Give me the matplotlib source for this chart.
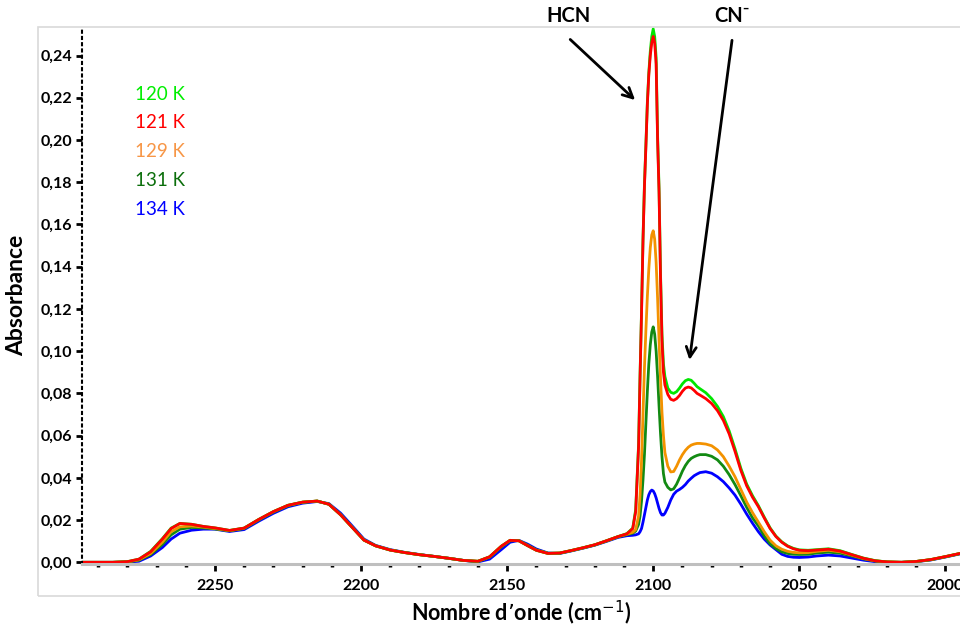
import matplotlib.pyplot as plt
from matplotlib.patches import Rectangle
from matplotlib.ticker import MultipleLocator, FuncFormatter

# wavenumber grid (cm-1), shared by every spectrum
wn = [2295, 2285, 2280, 2276, 2272, 2268, 2265, 2262, 2258, 2254,
      2250, 2245, 2240, 2235, 2230, 2225, 2220, 2215, 2211, 2207,
      2203, 2199, 2195, 2190, 2185, 2180, 2175, 2170, 2165, 2160,
      2156, 2152, 2149, 2146, 2143, 2140, 2136, 2132, 2128, 2124,
      2120, 2116, 2112, 2109, 2107, 2106,
      2105, 2104.5, 2104, 2103.5, 2103, 2102.5, 2102, 2101.5, 2101, 2100.5,
      2100, 2099.5, 2099, 2098.5, 2098, 2097.5, 2097, 2096.5, 2096,
      2095, 2094, 2093, 2092, 2091, 2090, 2089, 2088, 2087, 2086, 2085, 2084,
      2082, 2080, 2078, 2076, 2074, 2072, 2070, 2068, 2066, 2064, 2062, 2060,
      2058, 2056, 2054, 2052, 2050,
      2047, 2044, 2040, 2036, 2032, 2028, 2024, 2020, 2015, 2010, 2005, 2000, 1995]

a120 = [0, 0, 0.0003, 0.0015, 0.0052, 0.0112, 0.0162, 0.0184, 0.018, 0.017,
        0.0163, 0.0151, 0.0162, 0.0203, 0.0240, 0.027, 0.0285, 0.029, 0.0275, 0.0225,
        0.0165, 0.0105, 0.0078, 0.0058, 0.0046, 0.0036, 0.0028, 0.0019, 0.0009, 0.0005,
        0.0026, 0.0076, 0.0104, 0.0102, 0.0079, 0.0057, 0.0042, 0.0044, 0.0056, 0.0069,
        0.0083, 0.0102, 0.0122, 0.0136, 0.0162, 0.025,
        0.056, 0.089, 0.119, 0.153, 0.179, 0.198, 0.218, 0.232, 0.242, 0.249,
        0.2526, 0.249, 0.239, 0.202, 0.177, 0.137, 0.108, 0.094, 0.088,
        0.0825, 0.0805, 0.080, 0.0808, 0.0825, 0.0845, 0.086, 0.0866, 0.0862, 0.0848, 0.0832, 0.0822,
        0.0803, 0.0775, 0.0738, 0.069, 0.0622, 0.0537, 0.0445, 0.037, 0.0315, 0.0268, 0.0214, 0.0163,
        0.0124, 0.0097, 0.0078, 0.0066, 0.0059,
        0.0057, 0.006, 0.0064, 0.0055, 0.0037, 0.002, 0.0008, 0.0002, 0.0, 0.0004, 0.0013, 0.0027, 0.0042]

a121 = [0, 0, 0.0003, 0.0015, 0.005, 0.011, 0.016, 0.0184, 0.018, 0.017,
        0.0163, 0.0151, 0.0162, 0.0203, 0.0240, 0.027, 0.0285, 0.029, 0.0275, 0.0225,
        0.0165, 0.0105, 0.0078, 0.0058, 0.0046, 0.0036, 0.0028, 0.0019, 0.0009, 0.0005,
        0.0026, 0.0076, 0.0104, 0.0102, 0.0079, 0.0057, 0.0042, 0.0044, 0.0056, 0.0069,
        0.0083, 0.0102, 0.0122, 0.0135, 0.016, 0.024,
        0.055, 0.088, 0.118, 0.152, 0.178, 0.197, 0.217, 0.231, 0.240, 0.246,
        0.249, 0.246, 0.236, 0.200, 0.175, 0.135, 0.105, 0.090, 0.084,
        0.0795, 0.0772, 0.0767, 0.0775, 0.079, 0.081, 0.0825, 0.083, 0.0826, 0.0814, 0.080, 0.0792,
        0.0775, 0.0752, 0.0718, 0.0672, 0.0608, 0.0525, 0.0435, 0.0362, 0.0308, 0.0263, 0.021, 0.016,
        0.0122, 0.0095, 0.0076, 0.0064, 0.0057,
        0.0055, 0.0058, 0.0062, 0.0053, 0.0036, 0.0019, 0.0007, 0.0002, 0.0, 0.0004, 0.0013, 0.0027, 0.0042]

a129 = [0, 0, 0.0002, 0.0012, 0.0042, 0.0095, 0.0145, 0.0168, 0.0172, 0.0167,
        0.016, 0.015, 0.0162, 0.0203, 0.0240, 0.027, 0.0285, 0.029, 0.0275, 0.0225,
        0.0165, 0.0105, 0.0078, 0.0058, 0.0046, 0.0036, 0.0028, 0.0019, 0.0009, 0.0005,
        0.0026, 0.0076, 0.0104, 0.0102, 0.0079, 0.0057, 0.0042, 0.0044, 0.0056, 0.0069,
        0.0083, 0.0102, 0.0122, 0.0133, 0.0142, 0.0155,
        0.022, 0.032, 0.048, 0.070, 0.092, 0.110, 0.126, 0.139, 0.149, 0.155,
        0.157, 0.153, 0.142, 0.125, 0.105, 0.087, 0.071, 0.060, 0.052,
        0.0455, 0.0428, 0.043, 0.0455, 0.0485, 0.051, 0.053, 0.0545, 0.0555, 0.056, 0.0563, 0.0563,
        0.056, 0.0552, 0.0532, 0.050, 0.0455, 0.0405, 0.0345, 0.0285, 0.0235, 0.019, 0.0145, 0.0105,
        0.0078, 0.0062, 0.0052, 0.0047, 0.0045,
        0.0046, 0.0052, 0.0057, 0.005, 0.0034, 0.0018, 0.0007, 0.0002, 0.0, 0.0004, 0.0013, 0.0027, 0.0042]

a131 = [0, 0, 0.0002, 0.001, 0.0037, 0.0085, 0.013, 0.0157, 0.0165, 0.0163,
        0.0158, 0.0149, 0.016, 0.0201, 0.0238, 0.0268, 0.0284, 0.029, 0.0275, 0.0226,
        0.0166, 0.0106, 0.0078, 0.0058, 0.0046, 0.0036, 0.0028, 0.0019, 0.0009, 0.0004,
        0.0024, 0.0073, 0.0102, 0.0103, 0.0081, 0.0059, 0.0043, 0.0043, 0.0055, 0.0068,
        0.0082, 0.0101, 0.0121, 0.0131, 0.0138, 0.0148,
        0.018, 0.022, 0.029, 0.039, 0.051, 0.066, 0.081, 0.094, 0.103, 0.109,
        0.1115, 0.108, 0.100, 0.088, 0.074, 0.061, 0.050, 0.042, 0.038,
        0.0355, 0.0343, 0.0348, 0.037, 0.040, 0.0432, 0.0458, 0.0478, 0.0492, 0.050, 0.0506, 0.051,
        0.051, 0.0502, 0.0485, 0.0455, 0.0415, 0.0368, 0.0315, 0.026, 0.021, 0.0172, 0.0125, 0.0088,
        0.0065, 0.005, 0.0042, 0.0038, 0.0037,
        0.0038, 0.0044, 0.0048, 0.0043, 0.003, 0.0016, 0.0006, 0.0001, 0.0, 0.0004, 0.0012, 0.0026, 0.0041]

a134 = [0, 0, 0.0001, 0.0005, 0.003, 0.007, 0.011, 0.0138, 0.0152, 0.0157,
        0.0157, 0.0146, 0.0155, 0.0195, 0.0232, 0.0263, 0.028, 0.0288, 0.0278, 0.0233,
        0.0172, 0.011, 0.008, 0.006, 0.0047, 0.0037, 0.0028, 0.0019, 0.0009, 0.0002,
        0.0015, 0.006, 0.0095, 0.0104, 0.0086, 0.0063, 0.0044, 0.0042, 0.0054, 0.0067,
        0.0081, 0.0099, 0.0118, 0.0126, 0.0128, 0.013,
        0.0135, 0.0145, 0.016, 0.019, 0.0225, 0.026, 0.0295, 0.032, 0.0335, 0.0342,
        0.0338, 0.0325, 0.0305, 0.028, 0.0255, 0.0235, 0.0224, 0.0224, 0.0232,
        0.026, 0.0295, 0.0322, 0.0337, 0.0345, 0.0355, 0.0368, 0.0385, 0.0398, 0.041, 0.0418, 0.0425,
        0.0429, 0.0422, 0.0405, 0.0382, 0.0352, 0.0318, 0.0275, 0.0228, 0.0185, 0.0145, 0.011, 0.0082,
        0.006, 0.0038, 0.0028, 0.0024, 0.0023,
        0.0025, 0.003, 0.0034, 0.003, 0.002, 0.001, 0.0003, 0.0, 0.0, 0.0003, 0.0011, 0.0025, 0.004]

labels = ["120 K", "121 K", "129 K", "131 K", "134 K"]
line_colors = ["#00e600", "#ff0000", "#f39200", "#138a13", "#0000ff"]
text_colors = ["#00ee00", "#ff0000", "#f79646", "#0b6e0b", "#0000ff"]
spectra = [a120, a121, a129, a131, a134]

plt.rcParams['font.family'] = ['Lato', 'DejaVu Sans']

fig = plt.figure(figsize=(9.6, 6.27), dpi=100)
ax = fig.add_axes([82/960, 1 - 564/627, 878/960, 537/627])

# light grey frame around the chart area
fig.add_artist(Rectangle((38/960, 1 - 596/627), 1.0, 569/627, transform=fig.transFigure,
                         fill=False, edgecolor="#d9d9d9", lw=1.2, clip_on=False))

# draw the coolest spectra last so red sits on top
for i in [4, 3, 2, 0, 1]:
    ax.plot(wn, spectra[i], color=line_colors[i], lw=2.0, solid_joinstyle="round")

ax.set_xlim(2295.5, 1995)
ax.set_ylim(-0.0008, 0.2535)

ax.xaxis.set_major_locator(MultipleLocator(50))
ax.xaxis.set_minor_locator(MultipleLocator(10))
ax.yaxis.set_major_locator(MultipleLocator(0.02))
ax.yaxis.set_major_formatter(FuncFormatter(lambda v, p: f"{v:.2f}".replace(".", ",").replace("-", "")))

ax.spines[["top", "right"]].set_visible(False)
ax.spines["bottom"].set_color("#bfbfbf")
ax.spines["bottom"].set_linewidth(2.2)
ax.spines["left"].set_linestyle((0, (1, 2)))
ax.spines["left"].set_linewidth(1.5)

ax.tick_params(axis="x", which="major", length=5, width=2, color="black", pad=6, labelsize=11.5)
ax.tick_params(axis="x", which="minor", length=2, width=2.5, color="black")
ax.tick_params(axis="y", which="major", length=4, width=2, color="black", pad=3, labelsize=11.5)
for lab in ax.get_xticklabels() + ax.get_yticklabels():
    lab.set_fontweight("bold")

ax.set_xlabel("Nombre d\u2019onde (cm$^{-1}$)", fontsize=15.5, fontweight="bold", labelpad=4)
ax.set_ylabel("Absorbance", fontsize=16.5, fontweight="bold", labelpad=10)

# temperature labels
for k, (lab, c) in enumerate(zip(labels, text_colors)):
    fig.text(135/960, 1 - (94 + 28.8*k)/627, lab, color=c, fontsize=13.5, va="center", ha="left")

# band annotations
ax.annotate("", xy=(2105.5, 0.218), xytext=(2129.1, 0.2485), annotation_clip=False,
            arrowprops=dict(arrowstyle="->", lw=2, color="black", mutation_scale=18))
ax.annotate("", xy=(2087.7, 0.0945), xytext=(2072.9, 0.2485), annotation_clip=False,
            arrowprops=dict(arrowstyle="->", lw=2, color="black", mutation_scale=18))
ax.text(2129.1, 0.2585, "HCN", fontsize=14.5, fontweight="bold", ha="center", va="center", clip_on=False)
ax.text(2072.9, 0.2585, "CN\u207b", fontsize=14.5, fontweight="bold", ha="center", va="center", clip_on=False)

fig.savefig("out.png", dpi=100)
